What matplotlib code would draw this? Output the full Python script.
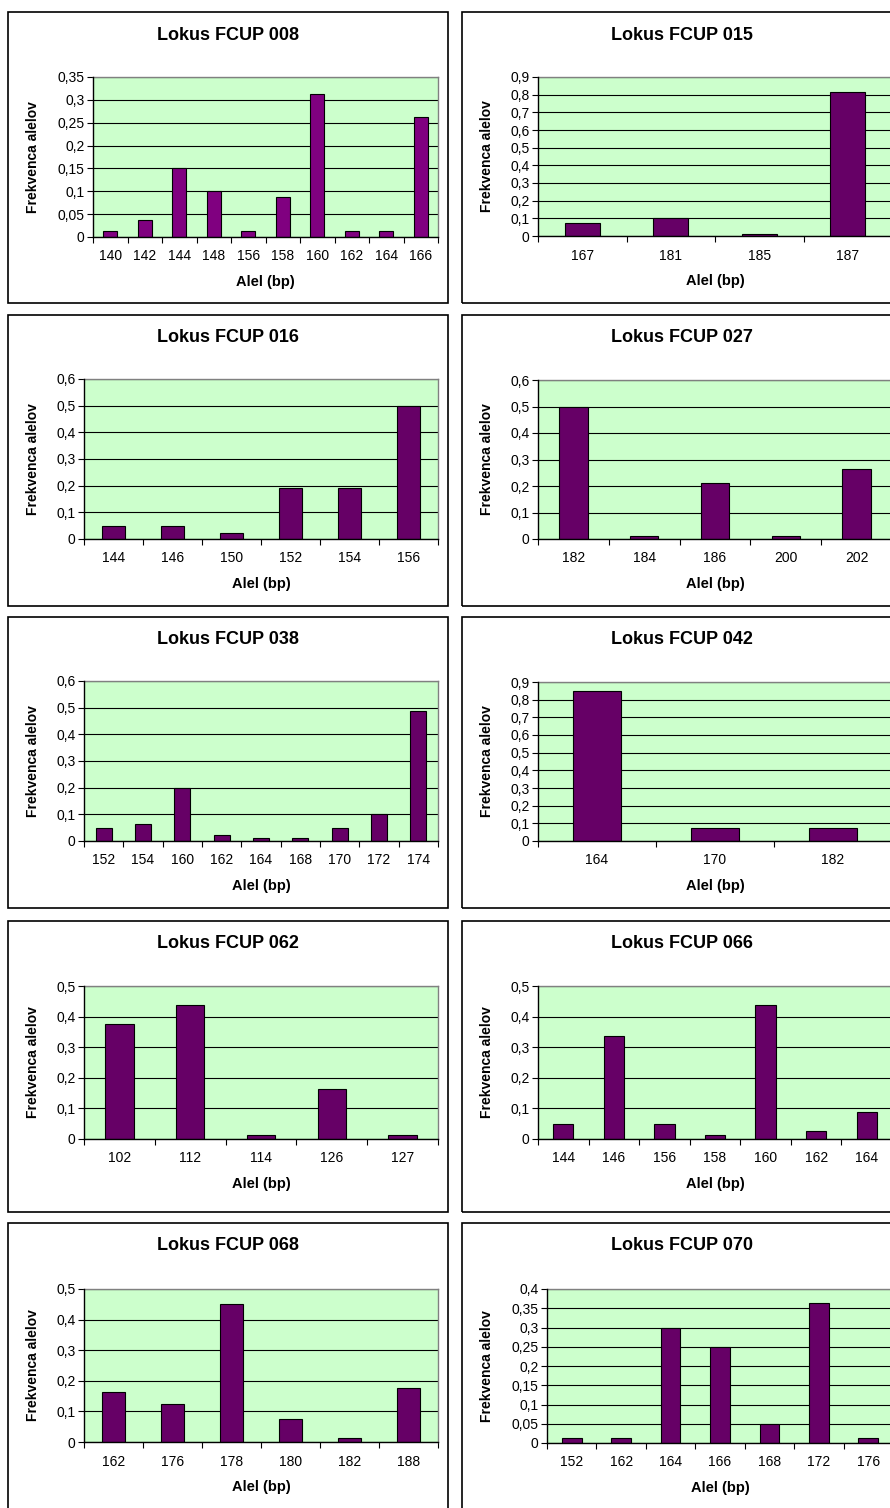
import numpy as np
import matplotlib
matplotlib.use("Agg")
import matplotlib.pyplot as plt
from matplotlib.patches import Rectangle
from matplotlib.ticker import FixedLocator, FuncFormatter

plt.rcParams['font.family'] = ['Liberation Sans', 'DejaVu Sans']

# data per locus
titles = ["Lokus FCUP 008", "Lokus FCUP 015", "Lokus FCUP 016", "Lokus FCUP 027",
          "Lokus FCUP 038", "Lokus FCUP 042", "Lokus FCUP 062", "Lokus FCUP 066",
          "Lokus FCUP 068", "Lokus FCUP 070"]

alel_008 = ["140", "142", "144", "148", "156", "158", "160", "162", "164", "166"]
freq_008 = [0.0125, 0.0375, 0.15, 0.1, 0.0125, 0.0875, 0.3125, 0.0125, 0.0125, 0.2625]

alel_015 = ["167", "181", "185", "187"]
freq_015 = [0.075, 0.1, 0.0125, 0.8125]

alel_016 = ["144", "146", "150", "152", "154", "156"]
freq_016 = [0.05, 0.05, 0.0227, 0.19, 0.19, 0.5]

alel_027 = ["182", "184", "186", "200", "202"]
freq_027 = [0.5, 0.0125, 0.2125, 0.0125, 0.2625]

alel_038 = ["152", "154", "160", "162", "164", "168", "170", "172", "174"]
freq_038 = [0.05, 0.0625, 0.2, 0.0225, 0.0125, 0.0125, 0.05, 0.1, 0.4875]

alel_042 = ["164", "170", "182"]
freq_042 = [0.85, 0.075, 0.075]

alel_062 = ["102", "112", "114", "126", "127"]
freq_062 = [0.375, 0.4375, 0.0125, 0.1625, 0.0125]

alel_066 = ["144", "146", "156", "158", "160", "162", "164"]
freq_066 = [0.05, 0.3375, 0.05, 0.0125, 0.4375, 0.025, 0.0875]

alel_068 = ["162", "176", "178", "180", "182", "188"]
freq_068 = [0.1625, 0.125, 0.45, 0.075, 0.0125, 0.175]

alel_070 = ["152", "162", "164", "166", "168", "172", "176"]
freq_070 = [0.0125, 0.0125, 0.3, 0.25, 0.05, 0.3625, 0.0125]

ymax = [0.35, 0.9, 0.6, 0.6, 0.6, 0.9, 0.5, 0.5, 0.5, 0.4]
ystep = [0.05, 0.1, 0.1, 0.1, 0.1, 0.1, 0.1, 0.1, 0.1, 0.05]

alleles = [alel_008, alel_015, alel_016, alel_027, alel_038,
           alel_042, alel_062, alel_066, alel_068, alel_070]
freqs = [freq_008, freq_015, freq_016, freq_027, freq_038,
         freq_042, freq_062, freq_066, freq_068, freq_070]

# layout in pixels
W, H = 890, 1508
box_rows = [(12, 303), (315, 606), (617, 908), (921, 1212), (1223, 1514)]
box_cols = [(8, 448), (462, 902)]
plot_px = [(93, 77, 438, 237), (538, 77, 892, 236),
           (84, 379, 438, 539), (538, 380, 892, 539),
           (84, 681, 438, 841), (538, 682, 892, 841),
           (84, 986, 438, 1139), (538, 986, 892, 1139),
           (84, 1289, 438, 1442), (547, 1289, 893, 1443)]

fig = plt.figure(figsize=(W / 100, H / 100), dpi=100)
fig.patch.set_facecolor("white")


def rect(x0, y0, x1, y1):
    return [x0 / W, 1 - y1 / H, (x1 - x0) / W, (y1 - y0) / H]


def comma_fmt(v, pos):
    s = f"{round(v, 2):g}"
    return s.replace(".", ",")


for i in range(10):
    r, c = divmod(i, 2)
    bt, bb = box_rows[r]
    bl, br = box_cols[c]
    fig.patches.append(Rectangle((bl / W, 1 - bb / H), (br - bl) / W, (bb - bt) / H,
                                 transform=fig.transFigure, fill=False,
                                 edgecolor="black", linewidth=1.2, zorder=0))
    fig.text((bl + br) / 2 / W, 1 - (bt + 23) / H, titles[i], ha="center",
             va="center", fontsize=13, fontweight="bold")

    x0, y0, x1, y1 = plot_px[i]
    ax = fig.add_axes(rect(x0, y0, x1, y1))
    ax.set_facecolor("#CCFFCC")
    n = len(alleles[i])
    color = "#800080" if i == 0 else "#660066"
    ax.bar(np.arange(n), freqs[i], width=0.4, color=color,
           edgecolor="black", linewidth=0.8, zorder=3)
    ax.set_xlim(-0.5, n - 0.5)
    ax.set_ylim(0, ymax[i])
    ticks = np.round(np.arange(0, ymax[i] + ystep[i] / 2, ystep[i]), 2)
    ax.yaxis.set_major_locator(FixedLocator(ticks))
    ax.yaxis.set_major_formatter(FuncFormatter(comma_fmt))
    ax.yaxis.grid(True, color="black", linewidth=0.8, zorder=1)
    ax.set_axisbelow(True)

    ax.set_xticks(np.arange(n))
    ax.set_xticklabels(alleles[i])
    ax.set_xticks(np.arange(n + 1) - 0.5, minor=True)
    ax.tick_params(axis="x", which="major", length=0, pad=9, labelsize=10)
    ax.tick_params(axis="x", which="minor", length=4, width=0.8, direction="out")
    ax.tick_params(axis="y", length=4, width=0.8, direction="out", pad=2,
                   labelsize=10)

    for s in ["top", "right"]:
        ax.spines[s].set_color("#808080")
        ax.spines[s].set_linewidth(1.0)
    for s in ["left", "bottom"]:
        ax.spines[s].set_color("black")
        ax.spines[s].set_linewidth(1.0)
        ax.spines[s].set_zorder(4)

    fig.text((bl + 25) / W, 1 - (y0 + y1) / 2 / H, "Frekvenca alelov",
             rotation=90, ha="center", va="center", fontsize=10,
             fontweight="bold")
    fig.text((x0 + x1) / 2 / W, 1 - (y1 + 45) / H, "Alel (bp)",
             ha="center", va="center", fontsize=10.5, fontweight="bold")

fig.savefig("out.png", dpi=100)
